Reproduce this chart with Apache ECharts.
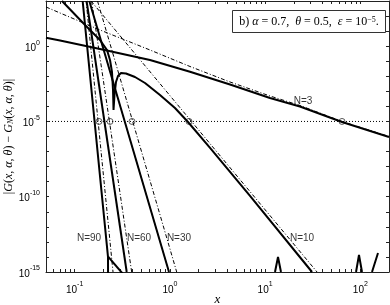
<!DOCTYPE html>
<html><head><meta charset="utf-8">
<script src="https://cdn.jsdelivr.net/npm/echarts@6/dist/echarts.min.js"></script>
<style>html,body{margin:0;padding:0;background:#fff}#c{width:390px;height:305px}</style>
</head><body><div id="c"></div><script>
// ---- axis ticks / labels ----
const xTickValues = [0.05,0.06,0.07,0.08,0.09,0.1,0.2,0.3,0.4,0.5,0.6,0.7,0.8,0.9,1,2,3,4,5,6,7,8,9,10,20,30,40,50,60,70,80,90,100,200];
const xLabelValues = [0.1,1,10,100];
const yTickValues = [1e-15,1e-14,1e-13,1e-12,1e-11,1e-10,1e-9,1e-8,1e-7,1e-6,1e-5,1e-4,1e-3,1e-2,1e-1,1,10,100,1000];
const yLabelValues = [1e-15,1e-10,1e-5,1];
const epsLevel = 1e-5;
const epsLine = [[0.05,1e-5],[173,1e-5]];
// ---- actual errors (solid) ----
const errN3 = [[0.05,3.65],[0.0702,2.38],[0.1845,0.648],[0.618,0.1205],[1.626,0.0201],[4.28,2.85e-3],[11.25,3.6e-4],[23.2,9.8e-5],[64.2,9.2e-6],[200,9.3e-7]];
const errN10 = [[0.0736,1000],[0.1285,25.5],[0.1845,2.57],[0.2186,0.557],[0.235,0.1205],[0.2466,0.0192],[0.2528,1.23e-3],[0.2559,5.75e-5],[0.262,5.7e-4],[0.2717,4.17e-3],[0.2851,0.01045],[0.3066,0.01652],[0.346,0.01531],[0.430,8.95e-3],[0.548,3.58e-3],[0.787,5.7e-4],[1.131,7.8e-5],[1.55,9.2e-6],[2.64,1.73e-7],[6.94,1.12e-10],[31.1,1e-15]];
const errN30 = [[0.1425,1000],[0.9788,1e-15]];
const errN60 = [[0.1334,1000],[0.352,1e-15]];
const errN90 = [[0.1213,1000],[0.2239,1e-14],[0.2245,1e-16]];
const noiseA = [[0.2245,1.05e-14],[0.318,8e-16]];
const noiseB = [[12.7,1e-15],[13.66,9.9e-15],[14.68,1e-15],null,[90.1,1e-15],[96.8,1.35e-14],[104.1,1e-15],null,[132.6,1e-15],[153.3,1.83e-14]];
// ---- error bounds (dash-dot) ----
const bndN3 = [[0.05,400],[0.0702,160],[0.1845,11.9],[0.618,0.557],[1.626,0.0447],[4.28,4.17e-3],[11.25,4.9e-4],[23.2,1.15e-4],[64.2,9.9e-6],[200,1e-6]];
const bndN10 = [[0.1486,1000],[35.1,1e-15]];
const bndN30 = [[0.1738,1000],[1.179,1e-15]];
const bndN60 = [[0.1507,1000],[0.397,1e-15]];
const bndN90 = [[0.132,1000],[0.2528,1e-15]];
// ---- crossing points with eps ----
const crossX = [0.180,0.235,0.400,1.587,64.2];
// ---- curve labels ----
const curveLabels = [['N=3',25.0,2.28e-4],['N=10',24.4,1.8e-13],['N=90',0.1415,1.8e-13],['N=60',0.474,1.8e-13],['N=30',1.246,1.8e-13]];

const chart = echarts.init(document.getElementById('c'), null, {renderer:'canvas'});
const supFmt = v => '{b|10}{e|' + Math.round(Math.log10(v)) + '}';
const richLab = {b:{fontSize:10,fontFamily:'Liberation Sans',color:'#000',padding:[4,0,0,0]},e:{fontSize:7,fontFamily:'Liberation Sans',color:'#000',verticalAlign:'top'}};
const axisCommon = (isX, pos, showLab) => ({
  type:'log', logBase:10, position:pos,
  min: isX?0.05:1e-15, max: isX?200:1000,
  axisLine:{show:true,onZero:false,lineStyle:{color:'#222',width:1}},
  axisTick:{show:true,inside:true,length:3,customValues:isX?xTickValues:yTickValues,lineStyle:{color:'#222',width:1}},
  minorTick:{show:false}, splitLine:{show:false},
  axisLabel:{show:showLab,customValues:isX?xLabelValues:yLabelValues,formatter:supFmt,rich:richLab,margin:isX?9:6}
});
const solid = (data) => ({type:'line',data,showSymbol:false,symbol:'none',clip:true,lineStyle:{color:'#000',width:2},z:3,animation:false});
const dashd = (data) => ({type:'line',data,showSymbol:false,symbol:'none',clip:true,lineStyle:{color:'#000',width:1,type:[4,2,1,2]},z:2,animation:false});
const xa = axisCommon(true,'bottom',true);
xa.name = 'x'; xa.nameLocation='middle'; xa.nameGap=21; xa.nameMoveOverlap=false;
xa.nameTextStyle = {fontFamily:'Liberation Serif',fontStyle:'italic',fontSize:13,color:'#000'};
const ya = axisCommon(false,'left',true);
ya.name = '{r||}{i|G}{r|(}{i|x}{r|, }{i|α}{r|, }{i|θ}{r|) − }{i|G}{s|N}{r|(}{i|x}{r|, }{i|α}{r|, }{i|θ}{r|)|}';
ya.nameLocation='middle'; ya.nameGap=31; ya.nameRotate=90; ya.nameMoveOverlap=false;
ya.nameTextStyle = {rich:{r:{fontFamily:'Liberation Serif',fontSize:12,color:'#000'},i:{fontFamily:'Liberation Serif',fontStyle:'italic',fontSize:12,color:'#000'},s:{fontFamily:'Liberation Serif',fontStyle:'italic',fontSize:8,color:'#000',verticalAlign:'bottom'}}};
const option = {
  animation:false,
  backgroundColor:'#fff',
  grid:{left:46,right:1,top:1,bottom:33,containLabel:false,outerBoundsMode:'none'},
  xAxis:[xa, axisCommon(true,'top',false)],
  yAxis:[ya, axisCommon(false,'right',false)],
  series:[
    {type:'line',data:epsLine,showSymbol:false,symbol:'none',lineStyle:{color:'#000',width:1,type:[1,2]},z:1,animation:false},
    dashd(bndN3), dashd(bndN10), dashd(bndN30), dashd(bndN60), dashd(bndN90),
    solid(errN3), solid(errN10), solid(errN30), solid(errN60), solid(errN90), solid(noiseA),
    Object.assign(solid(noiseB),{connectNulls:false}),
    {type:'scatter',data:crossX.map(x=>[x,epsLevel]),symbol:'circle',symbolSize:6,itemStyle:{color:'rgba(0,0,0,0)',borderColor:'#000',borderWidth:0.8},z:5,animation:false},
    {type:'scatter',data:curveLabels.map(l=>({name:l[0],value:[l[1],l[2]]})),symbolSize:0,z:6,animation:false,
     label:{show:true,position:'inside',formatter:'{b}',fontFamily:'Liberation Sans',fontSize:10,color:'#000'}}
  ],
  graphic:[{type:'group',left:232,top:10,children:[
    {type:'rect',shape:{x:0,y:0,width:153,height:22},style:{fill:'#fff',stroke:'#333',lineWidth:1}},
    {type:'text',x:76.5,y:11,style:{text:'{r|b) }{i|α}{r| = 0.7,  }{i|θ}{r| = 0.5,  }{i|ε}{r| = 10}{s|−5}{r|.}',align:'center',verticalAlign:'middle',
      rich:{r:{fontFamily:'Liberation Serif',fontSize:12,fill:'#000'},i:{fontFamily:'Liberation Serif',fontStyle:'italic',fontSize:12,fill:'#000'},s:{fontFamily:'Liberation Serif',fontSize:8,fill:'#000',verticalAlign:'top'}}}}
  ]}]
};
chart.setOption(option);
</script></body></html>
